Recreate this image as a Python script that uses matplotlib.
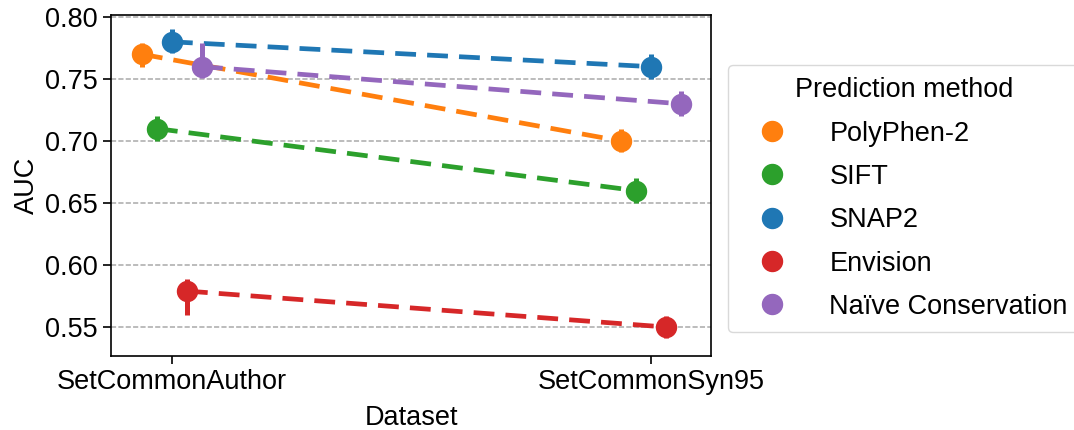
import numpy as np
import matplotlib.pyplot as plt

plt.rcParams['font.family'] = ['Liberation Sans', 'DejaVu Sans']
plt.rcParams['lines.scale_dashes'] = False

# Data
datasets = ['SetCommonAuthor', 'SetCommonSyn95']
methods = ['PolyPhen-2', 'SIFT', 'SNAP2', 'Envision', 'Naïve Conservation']
colors = ['#ff7f0e', '#2ca02c', '#1f77b4', '#d62728', '#9467bd']

auc = [
    [0.770, 0.700],   # PolyPhen-2
    [0.710, 0.660],   # SIFT
    [0.780, 0.760],   # SNAP2
    [0.579, 0.550],   # Envision
    [0.760, 0.730],   # Naive Conservation
]
ci_low = [
    [0.760, 0.691],
    [0.700, 0.650],
    [0.771, 0.750],
    [0.560, 0.541],
    [0.751, 0.720],
]
ci_high = [
    [0.779, 0.710],
    [0.720, 0.670],
    [0.790, 0.770],
    [0.589, 0.559],
    [0.779, 0.740],
]

fs = 19.5

fig, ax = plt.subplots(figsize=(10.74, 4.3), dpi=100)
fig.subplots_adjust(left=0.1034, right=0.662, top=0.965, bottom=0.172)

x = np.arange(len(datasets))
step = 0.0313
offsets = (np.arange(len(methods)) - 2) * step

for i, m in enumerate(methods):
    xs = x + offsets[i]
    vals = np.array(auc[i])
    yerr = [vals - np.array(ci_low[i]), np.array(ci_high[i]) - vals]
    ax.errorbar(xs, vals, yerr=yerr, fmt='none', ecolor=colors[i],
                elinewidth=3.6, capsize=0, zorder=3 + i)
    ax.plot(xs, vals, color=colors[i], linestyle=(0, (15, 8)), linewidth=3.4,
            marker='o', markersize=14.4, label=m, zorder=3 + i)

ax.set_xticks(x)
ax.set_xticklabels(datasets)
ax.set_xlim(-0.127, 1.125)
ax.set_ylim(0.5266, 0.8016)
ax.set_yticks([0.55, 0.60, 0.65, 0.70, 0.75, 0.80])
ax.set_yticklabels(['0.55', '0.60', '0.65', '0.70', '0.75', '0.80'])
ax.tick_params(labelsize=fs, length=6, width=1.2)
ax.set_xlabel('Dataset', fontsize=fs, labelpad=7)
ax.set_ylabel('AUC', fontsize=fs)
ax.yaxis.grid(True, linestyle='--', color='#b0b0b0', linewidth=1.2)
ax.set_axisbelow(True)
for s in ax.spines.values():
    s.set_linewidth(1.2)

handles = [plt.Line2D([], [], linestyle='none', marker='o', markersize=14.4,
                      color=c) for c in colors]
leg = ax.legend(handles, methods, title='Prediction method', loc='center left',
                bbox_to_anchor=(1.028, 0.462), borderaxespad=0,
                fontsize=fs, title_fontsize=fs, handlelength=2.4,
                handletextpad=0.9, labelspacing=0.64, borderpad=0.45)
leg.get_frame().set_edgecolor('#d0d0d0')

fig.savefig('out.png')
